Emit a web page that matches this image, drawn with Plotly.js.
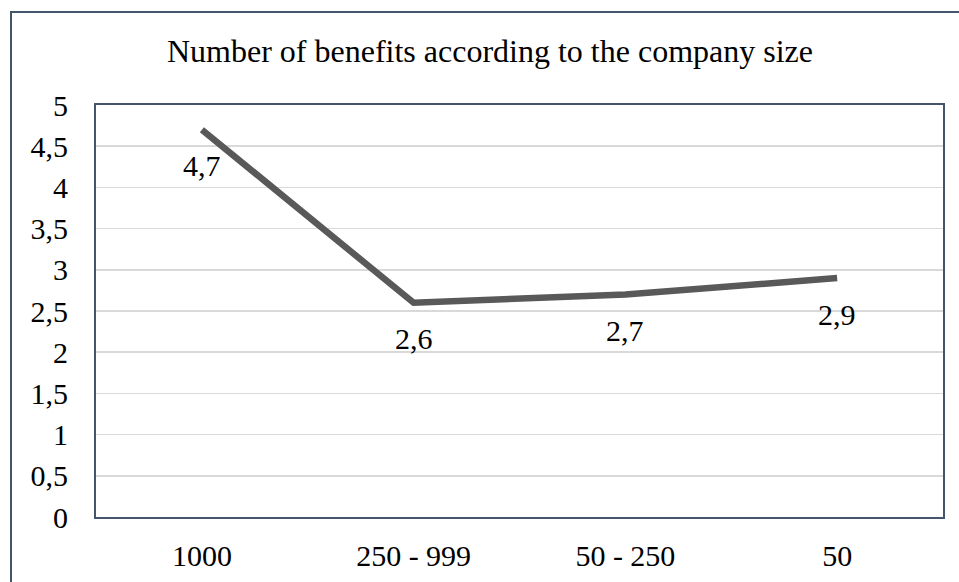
<!DOCTYPE html>
<html>
<head>
<meta charset="utf-8">
<script src="https://cdn.plot.ly/plotly-3.0.1.min.js"></script>
<style>html,body{margin:0;padding:0;background:#fff;}#chart{width:959px;height:582px;}</style>
</head>
<body>
<div id="chart"></div>
<script>
var categories = ["1000", "250 - 999", "50 - 250", "50"];
var values = [4.7, 2.6, 2.7, 2.9];
var labels = ["4,7", "2,6", "2,7", "2,9"];
var yTicks = [0, 0.5, 1, 1.5, 2, 2.5, 3, 3.5, 4, 4.5, 5];
var yTickText = ["0", "0,5", "1", "1,5", "2", "2,5", "3", "3,5", "4", "4,5", "5"];

var FONT = "'Liberation Serif', 'Times New Roman', serif";
var BORDER = "#44546A";

var trace = {
  x: categories,
  y: values,
  type: "scatter",
  mode: "lines",
  line: {color: "#595959", width: 6.5},
  hoverinfo: "none"
};

var annotations = categories.map(function (c, i) {
  return {
    x: i, y: values[i], xref: "x", yref: "y",
    text: labels[i], showarrow: false, yshift: -36,
    font: {family: FONT, size: 30, color: "#000"}
  };
});

var layout = {
  width: 959, height: 582,
  margin: {l: 96, r: 16, t: 105, b: 65, pad: 0},
  paper_bgcolor: "#fff", plot_bgcolor: "#fff",
  showlegend: false,
  title: {
    text: "Number of benefits according to the company size",
    font: {family: FONT, size: 32, color: "#000"},
    x: 490 / 959, xanchor: "center", xref: "container",
    y: 1 - 51 / 582, yanchor: "middle", yref: "container"
  },
  xaxis: {
    type: "category",
    categoryorder: "array", categoryarray: categories,
    range: [-0.5, 3.5],
    showgrid: false, zeroline: false,
    showline: true, linecolor: BORDER, linewidth: 2, mirror: true,
    ticks: "", ticklabelstandoff: 11,
    tickfont: {family: FONT, size: 30, color: "#000"}
  },
  yaxis: {
    range: [0, 5], tickvals: yTicks, ticktext: yTickText,
    showgrid: true, gridcolor: "#D9D9D9", gridwidth: 1.5,
    zeroline: false,
    showline: true, linecolor: BORDER, linewidth: 2, mirror: true,
    ticks: "", ticklabelstandoff: 20,
    tickfont: {family: FONT, size: 30, color: "#000"}
  },
  annotations: annotations,
  shapes: [{
    type: "rect", xref: "paper", yref: "paper",
    x0: (11 - 96) / 847, x1: (975 - 96) / 847,
    y0: (517 - 600) / 412, y1: 1 + (105 - 12) / 412,
    line: {color: BORDER, width: 2}, fillcolor: "rgba(0,0,0,0)",
    layer: "below"
  }]
};

Plotly.newPlot("chart", [trace], layout, {displayModeBar: false, staticPlot: true});
</script>
</body>
</html>
